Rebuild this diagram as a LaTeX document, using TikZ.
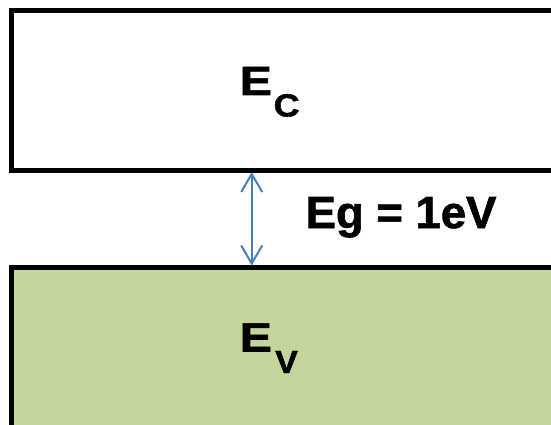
\documentclass[tikz,border=0pt]{standalone}
\usepackage{fontspec}
\setmainfont{Liberation Sans}[BoldFeatures={FakeBold=1.4}]
\usetikzlibrary{arrows.meta}
\definecolor{bandgreen}{HTML}{C3D69B}
\definecolor{arrowblue}{HTML}{4A7EBB}
\tikzset{
  band/.style={draw=black, line width=5pt},
  lbl/.style={inner sep=0pt, anchor=base west, font=\bfseries},
  gaparrow/.style={draw=arrowblue, line width=2pt, {Straight Barb[length=18pt,width=21pt,line width=2pt]}-{Straight Barb[length=18pt,width=21pt,line width=2pt]}}
}
\begin{document}
\begin{tikzpicture}[x=1pt,y=-1pt]
\useasboundingbox (0,0) rectangle (551,425);
\clip (0,0) rectangle (551,425);
\fill[white] (0,0) rectangle (551,425);
% bands
\draw[band, fill=white] (11.5,10.5) rectangle (580,170);
\draw[band, fill=bandgreen] (11.5,267) rectangle (580,440);
\coordinate (ctop) at (251.7,172);
\coordinate (vtop) at (251.7,265.5);
% labels
\node[lbl, font=\bfseries\fontsize{41}{41}\selectfont] (EC) at (239.5,95) {\scalebox{1.18}[1]{E}};
\node[lbl, font=\bfseries\fontsize{32}{32}\selectfont] (ECsub) at (273.5,116.5) {\scalebox{1.12}[1]{C}};
\node[lbl, font=\bfseries\fontsize{41}{41}\selectfont] (EV) at (239.5,351.5) {\scalebox{1.18}[1]{E}};
\node[lbl, font=\bfseries\fontsize{32}{32}\selectfont] (EVsub) at (275,373) {\scalebox{1.06}[1]{V}};
\node[lbl, font=\bfseries\fontsize{45}{45}\selectfont] (Eg) at (305.5,228) {\scalebox{1.01}[1]{Eg = 1eV}};
% gap arrow
\draw[gaparrow] (ctop) -- (vtop);
\end{tikzpicture}
\end{document}
